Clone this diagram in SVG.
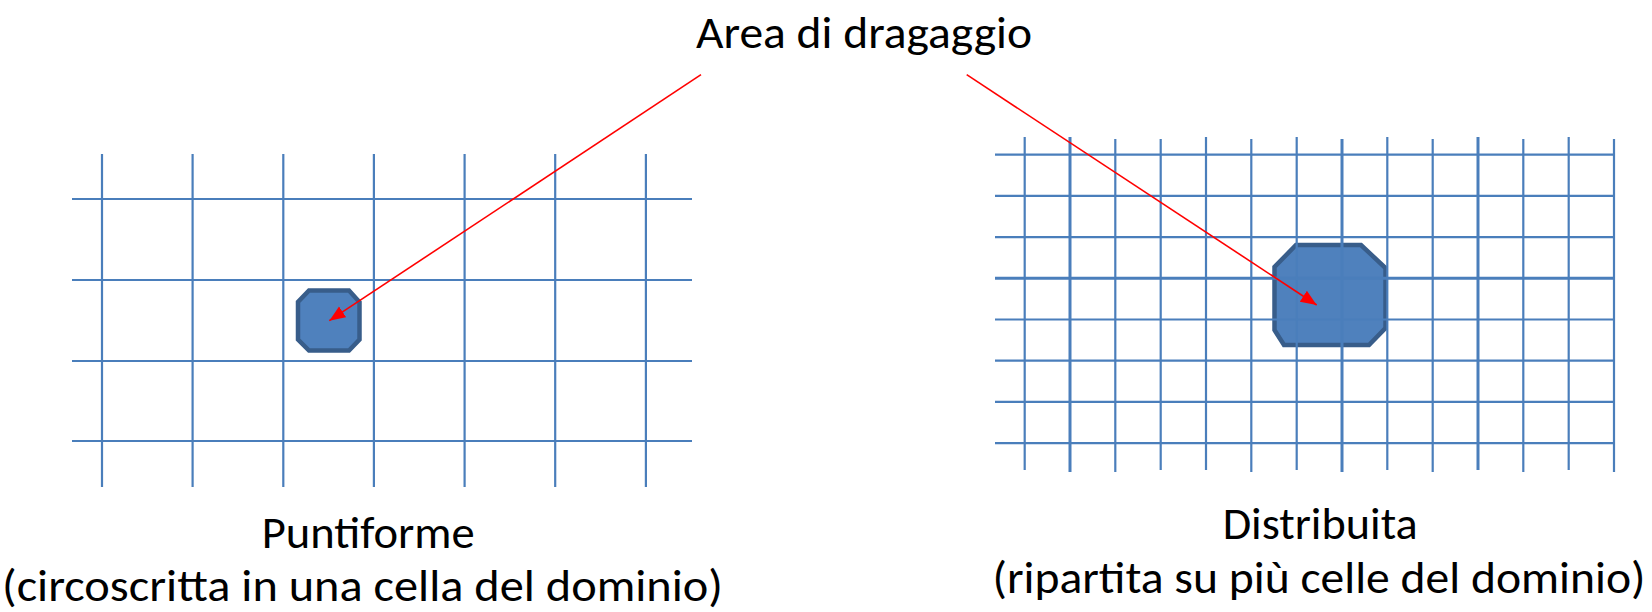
<svg xmlns="http://www.w3.org/2000/svg" width="1652" height="612" viewBox="0 0 1652 612">
<style>
.grid line{stroke:#4A7EBB;stroke-width:2.2}
.grid line.thick{stroke-width:3}
.oct{fill:#4F81BD;stroke:#385D8A;stroke-width:4.5;stroke-linejoin:miter}
.lbl{font-family:Calibri,Carlito,Lato,"Open Sans",sans-serif;font-size:46px;fill:#000}
.conn line{stroke:#FF0000;stroke-width:1.6;fill:none}
</style>
<defs>
<marker id="ah" markerUnits="userSpaceOnUse" markerWidth="17" markerHeight="14" refX="16" refY="6.5" orient="auto">
<path d="M0,0 L16,6.5 L0,13 z" fill="#FF0000"/>
</marker>
</defs>
<rect width="1652" height="612" fill="#FFFFFF"/>

<g id="node-puntiforme">
<polygon class="oct" points="309,290.5 349,290.5 359.5,302 359.5,339.5 349,350.5 309,350.5 298,339.5 298,302"/>
</g>

<g id="node-distribuita">
<polygon class="oct" points="1296,245 1361,245 1385.5,268 1385.5,328 1369,345 1284,345 1274.5,330 1274.5,267"/>
</g>

<g id="grid-left" class="grid">
<line x1="72" y1="199" x2="692" y2="199"/>
<line x1="72" y1="280" x2="692" y2="280"/>
<line x1="72" y1="361" x2="692" y2="361"/>
<line x1="72" y1="441" x2="692" y2="441"/>
<line x1="102" y1="154" x2="102" y2="487"/>
<line x1="192.6" y1="154" x2="192.6" y2="487"/>
<line x1="283.3" y1="154" x2="283.3" y2="487"/>
<line x1="373.9" y1="154" x2="373.9" y2="487"/>
<line x1="464.6" y1="154" x2="464.6" y2="487"/>
<line x1="555.2" y1="154" x2="555.2" y2="487"/>
<line x1="645.9" y1="154" x2="645.9" y2="487"/>
</g>

<g id="grid-right" class="grid">
<line x1="995" y1="154.7" x2="1615" y2="154.7"/>
<line x1="995" y1="195.9" x2="1615" y2="195.9"/>
<line x1="995" y1="237.1" x2="1615" y2="237.1"/>
<line class="thick" x1="995" y1="278.3" x2="1615" y2="278.3"/>
<line x1="995" y1="319.5" x2="1615" y2="319.5"/>
<line x1="995" y1="360.7" x2="1615" y2="360.7"/>
<line x1="995" y1="401.9" x2="1615" y2="401.9"/>
<line x1="995" y1="443.1" x2="1615" y2="443.1"/>
<line x1="1024.7" y1="137" x2="1024.7" y2="470"/>
<line class="thick" x1="1070" y1="137" x2="1070" y2="472"/>
<line x1="1115.3" y1="139" x2="1115.3" y2="472"/>
<line x1="1160.7" y1="139" x2="1160.7" y2="470"/>
<line x1="1206" y1="137" x2="1206" y2="470"/>
<line x1="1251.3" y1="139" x2="1251.3" y2="472"/>
<line x1="1296.7" y1="137" x2="1296.7" y2="470"/>
<line class="thick" x1="1342" y1="139" x2="1342" y2="472"/>
<line x1="1387.3" y1="137" x2="1387.3" y2="470"/>
<line x1="1432.7" y1="139" x2="1432.7" y2="472"/>
<line class="thick" x1="1478" y1="137" x2="1478" y2="470"/>
<line x1="1523.3" y1="139" x2="1523.3" y2="472"/>
<line x1="1568.7" y1="137" x2="1568.7" y2="470"/>
<line x1="1614" y1="139" x2="1614" y2="472"/>
</g>

<g id="connectors" class="conn">
<line x1="701" y1="74.7" x2="329.3" y2="320.7" marker-end="url(#ah)"/>
<line x1="966.7" y1="74.7" x2="1316.7" y2="305" marker-end="url(#ah)"/>
</g>

<g id="label-area">
<text class="lbl" x="696" y="48.3" textLength="336" lengthAdjust="spacingAndGlyphs">Area di dragaggio</text>
</g>
<g id="label-puntiforme">
<text class="lbl" x="261.7" y="548" textLength="213" lengthAdjust="spacingAndGlyphs">Puntiforme</text>
<text class="lbl" x="2" y="601" textLength="721" lengthAdjust="spacingAndGlyphs">(circoscritta in una cella del dominio)</text>
</g>
<g id="label-distribuita">
<text class="lbl" x="1222.7" y="539" textLength="195" lengthAdjust="spacingAndGlyphs">Distribuita</text>
<text class="lbl" x="992.5" y="593" textLength="653" lengthAdjust="spacingAndGlyphs">(ripartita su più celle del dominio)</text>
</g>
</svg>
